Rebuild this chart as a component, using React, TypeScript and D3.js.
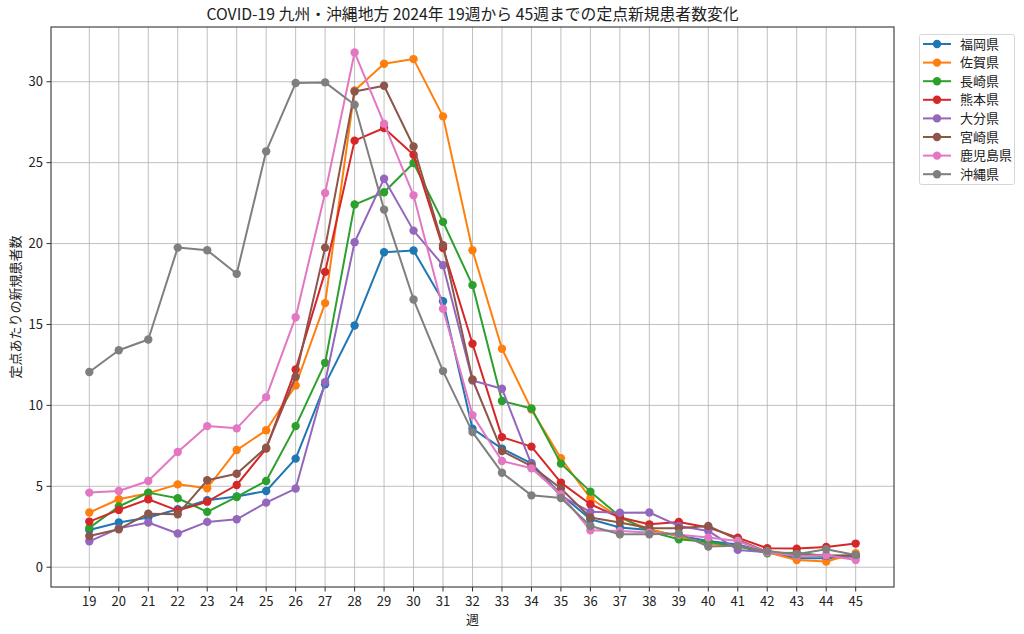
import React, { useEffect, useRef } from 'react';
import * as d3 from 'd3';

// weeks 19..45
const weeks = d3.range(19, 46);

const fukuoka = [2.3, 2.76, 3.07, 3.58, 4.14, 4.37, 4.71, 6.71, 11.3, 14.94, 19.46, 19.57, 16.44, 8.56, 7.33, 6.42, 4.5, 2.96, 2.45, 2.3, 1.95, 1.62, 1.4, 0.93, 0.55, 0.55, 0.7];
const saga = [3.38, 4.2, 4.57, 5.12, 4.88, 7.24, 8.46, 11.23, 16.32, 29.46, 31.11, 31.4, 27.86, 19.59, 13.5, 9.75, 6.73, 4.26, 3.05, 2.35, 1.9, 1.45, 1.3, 0.93, 0.45, 0.35, 0.86];
const nagasaki = [2.43, 3.75, 4.61, 4.26, 3.42, 4.34, 5.33, 8.72, 12.63, 22.41, 23.17, 24.98, 21.34, 17.43, 10.27, 9.81, 6.4, 4.67, 3.13, 2.2, 1.73, 1.55, 1.3, 0.86, 0.9, 0.7, 0.72];
const kumamoto = [2.82, 3.54, 4.2, 3.5, 4.05, 5.08, 7.33, 12.22, 18.25, 26.36, 27.14, 25.49, 19.73, 13.81, 8.04, 7.45, 5.23, 3.89, 3.07, 2.65, 2.8, 2.45, 1.83, 1.17, 1.15, 1.25, 1.46];
const oita = [1.6, 2.4, 2.76, 2.08, 2.8, 2.96, 3.99, 4.86, 11.44, 20.08, 24.01, 20.8, 18.66, 11.54, 11.03, 6.35, 4.4, 3.42, 3.37, 3.38, 2.55, 2.24, 1.07, 0.93, 0.75, 0.7, 0.65];
const miyazaki = [1.93, 2.35, 3.31, 3.27, 5.37, 5.78, 7.39, 11.77, 19.75, 29.4, 29.75, 26.0, 19.9, 11.6, 7.18, 6.25, 4.86, 3.07, 2.76, 2.41, 2.41, 2.55, 1.7, 0.95, 0.75, 0.72, 0.72];
const kagoshima = [4.61, 4.71, 5.33, 7.12, 8.72, 8.58, 10.51, 15.45, 23.13, 31.81, 27.41, 22.98, 15.97, 9.4, 6.56, 6.11, 4.5, 2.28, 2.24, 2.14, 2.0, 1.83, 1.62, 0.93, 0.7, 0.74, 0.45];
const okinawa = [12.06, 13.41, 14.07, 19.75, 19.59, 18.13, 25.7, 29.92, 29.96, 28.58, 22.1, 16.54, 12.12, 8.35, 5.84, 4.44, 4.28, 2.55, 2.04, 2.04, 2.08, 1.28, 1.32, 1.0, 0.8, 1.11, 0.76];

const prefectures = ['福岡県', '佐賀県', '長崎県', '熊本県', '大分県', '宮崎県', '鹿児島県', '沖縄県'];
const seriesValues = [fukuoka, saga, nagasaki, kumamoto, oita, miyazaki, kagoshima, okinawa];
const colors = ['#1f77b4', '#ff7f0e', '#2ca02c', '#d62728', '#9467bd', '#8c564b', '#e377c2', '#7f7f7f'];
const yTicks = [0, 5, 10, 15, 20, 25, 30];

const FONT = '"Noto Sans CJK JP", "Noto Sans", sans-serif';

const App = () => {
  const ref = useRef<SVGSVGElement>(null);

  useEffect(() => {
    const svg = d3.select(ref.current);
    svg.selectAll('*').remove();

    const width = 1024;
    const height = 634;
    const left = 51;
    const right = 894;
    const top = 27;
    const bottom = 587;

    // matplotlib-like 5% margins
    const allVals = seriesValues.flat();
    const [yMin, yMax] = d3.extent(allVals) as [number, number];
    const yPad = (yMax - yMin) * 0.05;
    const xPad = (45 - 19) * 0.05;

    const x = d3.scaleLinear().domain([19 - xPad, 45 + xPad]).range([left, right]);
    const y = d3.scaleLinear().domain([yMin - yPad, yMax + yPad]).range([bottom, top]);

    svg.append('rect').attr('width', width).attr('height', height).attr('fill', '#fff');

    // grid
    const grid = svg.append('g').attr('stroke', '#b0b0b0').attr('stroke-width', 0.8);
    grid
      .selectAll('line.vx')
      .data(weeks)
      .enter()
      .append('line')
      .attr('x1', (d) => x(d))
      .attr('x2', (d) => x(d))
      .attr('y1', top)
      .attr('y2', bottom);
    grid
      .selectAll('line.hy')
      .data(yTicks)
      .enter()
      .append('line')
      .attr('x1', left)
      .attr('x2', right)
      .attr('y1', (d) => y(d))
      .attr('y2', (d) => y(d));

    // series
    const line = d3
      .line<number>()
      .x((d, i) => x(weeks[i]))
      .y((d) => y(d));

    seriesValues.forEach((vals, k) => {
      const g = svg.append('g');
      g.append('path')
        .attr('d', line(vals))
        .attr('fill', 'none')
        .attr('stroke', colors[k])
        .attr('stroke-width', 2)
        .attr('stroke-linejoin', 'round');
      g.selectAll('circle')
        .data(vals)
        .enter()
        .append('circle')
        .attr('cx', (d, i) => x(weeks[i]))
        .attr('cy', (d) => y(d))
        .attr('r', 4.2)
        .attr('fill', colors[k]);
    });

    // frame
    svg
      .append('rect')
      .attr('x', left)
      .attr('y', top)
      .attr('width', right - left)
      .attr('height', bottom - top)
      .attr('fill', 'none')
      .attr('stroke', '#333')
      .attr('stroke-width', 1.1);

    // tick marks
    const ticks = svg.append('g').attr('stroke', '#333').attr('stroke-width', 1);
    ticks
      .selectAll('line.xtm')
      .data(weeks)
      .enter()
      .append('line')
      .attr('x1', (d) => x(d))
      .attr('x2', (d) => x(d))
      .attr('y1', bottom)
      .attr('y2', bottom + 4.5);
    ticks
      .selectAll('line.ytm')
      .data(yTicks)
      .enter()
      .append('line')
      .attr('x1', left - 4.5)
      .attr('x2', left)
      .attr('y1', (d) => y(d))
      .attr('y2', (d) => y(d));

    // tick labels
    svg
      .selectAll('text.xt')
      .data(weeks)
      .enter()
      .append('text')
      .attr('x', (d) => x(d))
      .attr('y', 606)
      .attr('text-anchor', 'middle')
      .style('font-family', FONT)
      .style('font-size', '13px')
      .attr('fill', '#222')
      .text((d) => d);

    svg
      .selectAll('text.yt')
      .data(yTicks)
      .enter()
      .append('text')
      .attr('x', 43)
      .attr('y', (d) => y(d) + 4.5)
      .attr('text-anchor', 'end')
      .style('font-family', FONT)
      .style('font-size', '13px')
      .attr('fill', '#222')
      .text((d) => d);

    // axis labels and title
    svg
      .append('text')
      .attr('x', (left + right) / 2)
      .attr('y', 624)
      .attr('text-anchor', 'middle')
      .style('font-family', FONT)
      .style('font-size', '13px')
      .attr('fill', '#222')
      .text('週');

    svg
      .append('text')
      .attr('transform', `translate(20, ${(top + bottom) / 2}) rotate(-90)`)
      .attr('text-anchor', 'middle')
      .style('font-family', FONT)
      .style('font-size', '13px')
      .attr('fill', '#222')
      .text('定点あたりの新規患者数');

    svg
      .append('text')
      .attr('x', (left + right) / 2)
      .attr('y', 20)
      .attr('text-anchor', 'middle')
      .style('font-family', FONT)
      .style('font-size', '15.8px')
      .attr('fill', '#222')
      .text('COVID-19 九州・沖縄地方 2024年 19週から 45週までの定点新規患者数変化');

    // legend
    const lg = svg.append('g');
    lg.append('rect')
      .attr('x', 919.5)
      .attr('y', 34.5)
      .attr('width', 95)
      .attr('height', 150)
      .attr('rx', 2)
      .attr('fill', '#fff')
      .attr('stroke', '#d6d6d6');
    prefectures.forEach((name, k) => {
      const ly = 44 + k * 18.6;
      lg.append('line')
        .attr('x1', 923)
        .attr('x2', 951)
        .attr('y1', ly)
        .attr('y2', ly)
        .attr('stroke', colors[k])
        .attr('stroke-width', 2);
      lg.append('circle').attr('cx', 937).attr('cy', ly).attr('r', 4.2).attr('fill', colors[k]);
      lg.append('text')
        .attr('x', 960)
        .attr('y', ly + 4.5)
        .style('font-family', FONT)
        .style('font-size', '13px')
        .attr('fill', '#222')
        .text(name);
    });
  }, []);

  return (
    <svg
      ref={ref}
      width={1024}
      height={634}
      style={{ position: 'absolute', left: 0, top: 0, display: 'block' }}
    />
  );
};

export default App;
